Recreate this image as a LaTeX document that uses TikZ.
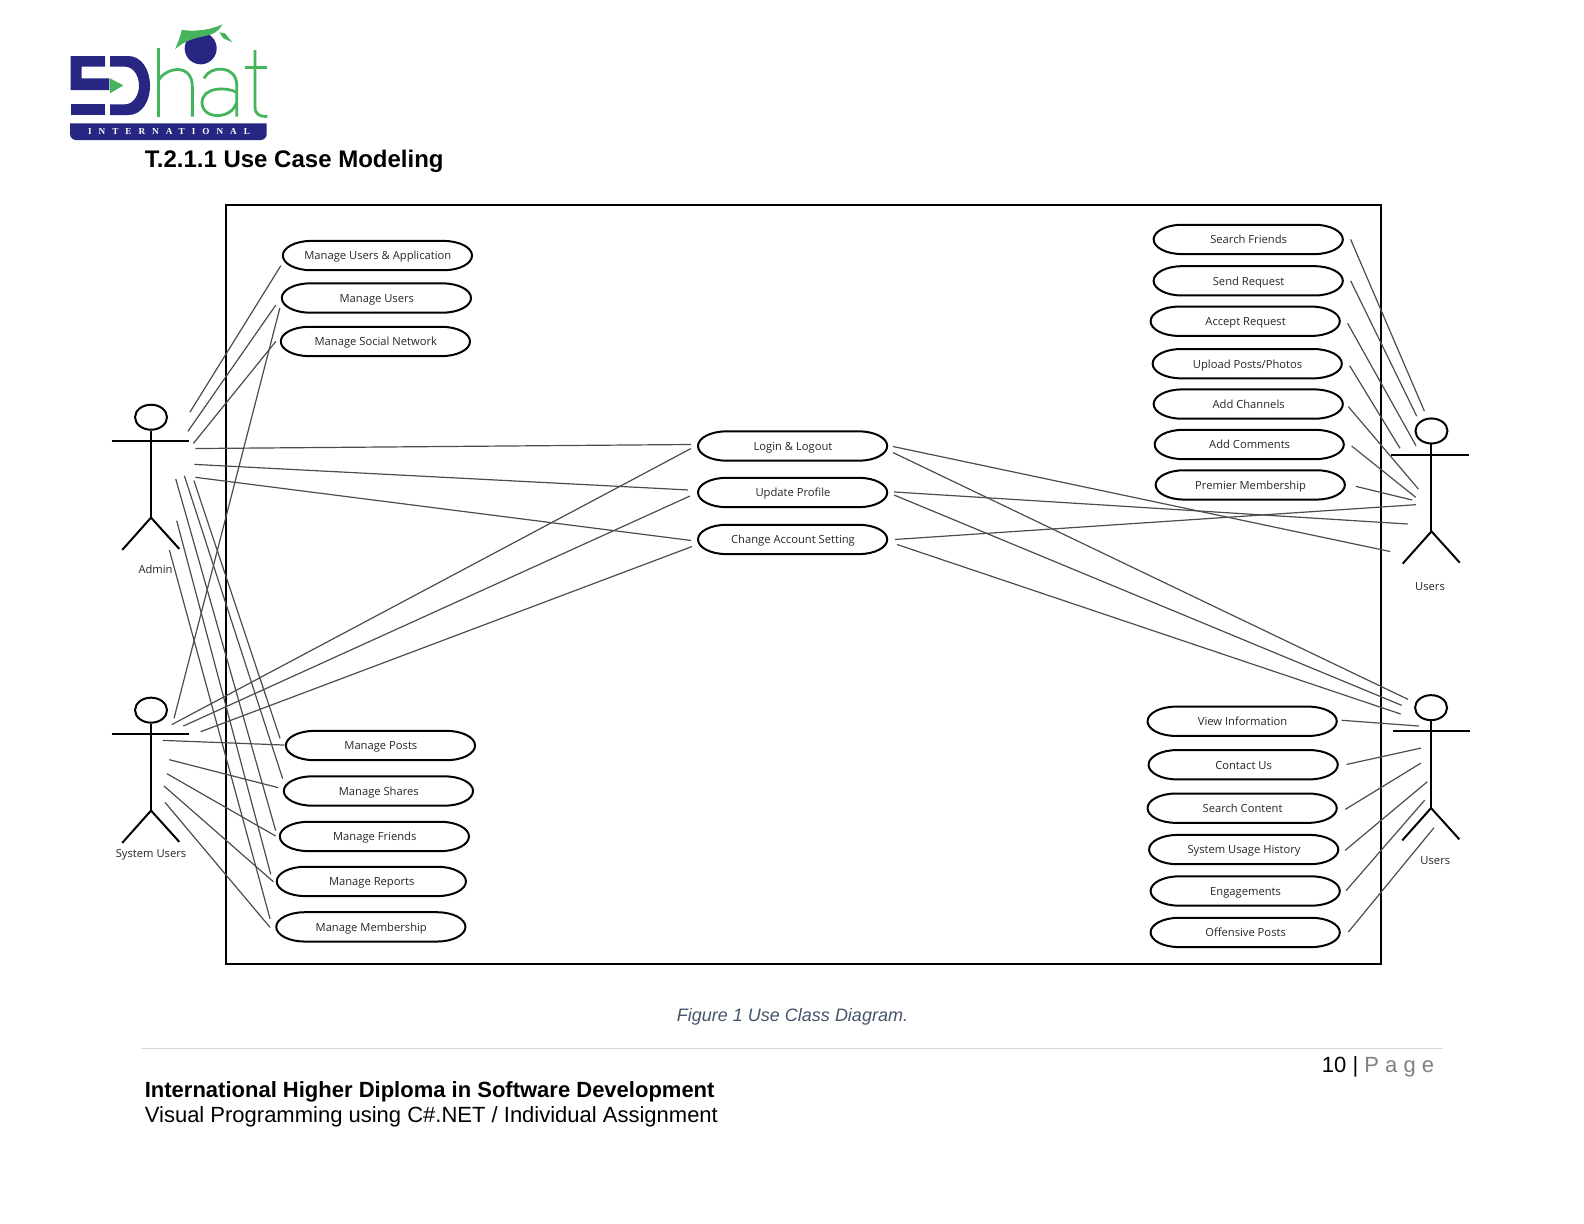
\documentclass[tikz,border=0pt]{standalone}
\usepackage{fontspec}
\setmainfont{Liberation Sans}
\newfontfamily\umlfont{Open Sans}
\newfontfamily\logofont[LetterSpace=76]{Liberation Serif}
\usetikzlibrary{shapes.geometric}

\definecolor{logonavy}{RGB}{39,38,130}
\definecolor{logogreen}{RGB}{70,180,92}
\definecolor{captionblue}{RGB}{68,84,106}

\tikzset{
    usecase/.style = {minimum width = 94.6pt, minimum height = 14.65pt, inner sep = 0pt, text height = 4.4pt, text depth = 0pt, font = \umlfont\fontsize{5.6}{7}\selectfont, text = black!85},
    usecaseline/.style = {line width = 1pt},
    actorline/.style = {line width = 1pt},
    actorhead/.style = {draw, ellipse, line width = 1pt, minimum width = 16pt, minimum height = 12.5pt, inner sep = 0pt},
    actorlabel/.style = {font = \umlfont\fontsize{5.6}{7}\selectfont, text = black!85},
    link/.style = {line width = .6pt, black!70},
    pagetext/.style = {anchor = west, inner sep = 0pt},
    logostroke/.style = {draw = logogreen, line width = 1.4pt}
}

\newcommand{\usecasebox}[4]{
    \node [usecase] (#1) at (#2, #3) {#4};
    \draw [usecaseline] (#1.west) arc [start angle = 180, end angle = 90, x radius = 28, y radius = 14.5] -- ++(131.3, 0)
        arc [start angle = 90, end angle = -90, x radius = 28, y radius = 14.5] -- ++(-131.3, 0)
        arc [start angle = -90, end angle = -180, x radius = 28, y radius = 14.5] -- cycle;
}

\newcommand{\actorman}[5]{
    \node [actorhead] (#1) at (#2, #3) {};
    \draw [actorline] (#1.south) -- ++(0, 86) coordinate (#1hip);
    \draw [actorline] ([yshift = -23.5*.5051pt, xshift = #4*.5051pt]#1.center) -- ([yshift = -23.5*.5051pt, xshift = #5*.5051pt]#1.center);
    \draw [actorline] ([xshift = -28.5*.5051pt, yshift = -32*.5051pt]#1hip) -- (#1hip) -- ([xshift = 28*.5051pt, yshift = -31*.5051pt]#1hip);
}

\begin{document}
\begin{tikzpicture}[x = .5051pt, y = -.5051pt]
    \useasboundingbox (0, 0) rectangle (1568, 1211.6);

    % logo
    \begin{scope}[shift = {(59.4, 14.85)}, x = .16668pt, y = -.16668pt]
        \fill [logonavy] (32, 123) -- (135, 123) -- (135, 155) -- (65, 155) -- (65, 190) -- (148, 190) -- (148, 225) -- (32, 225) -- cycle;
        \fill [logonavy] (32, 268) -- (135, 268) -- (135, 300) -- (32, 300) -- cycle;
        \fill [logonavy] (150, 123) -- (205, 123) .. controls (245, 123) and (270, 165) .. (270, 212) .. controls (270, 260) and (245, 300) .. (205, 300) -- (150, 300) -- (150, 268) -- (195, 268) .. controls (220, 268) and (237, 240) .. (237, 212) .. controls (237, 182) and (220, 155) .. (195, 155) -- (150, 155) -- cycle;
        \fill [logogreen] (150, 190) -- (190, 211) -- (150, 235) -- cycle;
        \fill [logonavy] (422, 100) circle [radius = 48];
        \draw [logostroke] (295, 100) -- (295, 305);
        \draw [logostroke] (296, 195) .. controls (320, 155) and (397, 145) .. (397, 215) -- (397, 305);
        \draw [logostroke] (432, 190) .. controls (450, 150) and (530, 150) .. (530, 210) -- (530, 305);
        \draw [logostroke] (530, 232) .. controls (500, 215) and (428, 215) .. (426, 262) .. controls (426, 315) and (515, 315) .. (530, 262);
        \draw [logostroke] (585, 105) -- (585, 275) .. controls (585, 300) and (600, 305) .. (622, 304);
        \draw [logostroke] (555, 158) -- (622, 158);
        \fill [logogreen] (365, 45) .. controls (410, 50) and (450, 45) .. (487, 28) .. controls (475, 50) and (460, 58) .. (440, 62) .. controls (410, 68) and (375, 75) .. (345, 103) .. controls (352, 85) and (362, 65) .. (365, 45) -- cycle;
        \fill [logogreen] (478, 52) -- (495, 55) -- (517, 82) -- (490, 70) -- cycle;
        \fill [logonavy] (30, 325) -- (620, 325) [rounded corners = 3pt] -- (620, 375) -- (30, 375) [sharp corners] -- cycle;
        \node [text = white] (logoband) at (327, 350) {\logofont\fontsize{4.6}{6}\selectfont\bfseries INTERNATIONAL};
    \end{scope}

    \node [pagetext, font = \fontsize{12}{14}\selectfont\bfseries] (title) at (143, 160) {T.2.1.1 Use Case Modeling};

    % system boundary
    \draw [line width = 1pt] (224, 203) rectangle (1367, 954);

    \usecasebox{mua}{374}{253}{Manage Users \& Application}
    \usecasebox{mu}{373}{295}{Manage Users}
    \usecasebox{msn}{372}{338}{Manage Social Network}

    \usecasebox{log}{785}{441.5}{Login \& Logout}
    \usecasebox{upd}{785}{487.5}{Update Profile}
    \usecasebox{chg}{785}{534}{Change Account Setting}

    \usecasebox{sf}{1236}{237}{Search Friends}
    \usecasebox{sr}{1236}{278}{Send Request}
    \usecasebox{ar}{1233}{318}{Accept Request}
    \usecasebox{up}{1235}{360}{Upload Posts/Photos}
    \usecasebox{ac}{1236}{400}{Add Channels}
    \usecasebox{acm}{1237}{440}{Add Comments}
    \usecasebox{pm}{1238}{480}{Premier Membership}

    \usecasebox{mp}{377}{738}{Manage Posts}
    \usecasebox{ms}{375}{783}{Manage Shares}
    \usecasebox{mf}{371}{828}{Manage Friends}
    \usecasebox{mr}{368}{872.5}{Manage Reports}
    \usecasebox{mm}{367.5}{917.5}{Manage Membership}

    \usecasebox{vi}{1230}{714}{View Information}
    \usecasebox{cu}{1231}{757}{Contact Us}
    \usecasebox{sc}{1230}{800}{Search Content}
    \usecasebox{suh}{1231.5}{841}{System Usage History}
    \usecasebox{eng}{1233}{882}{Engagements}
    \usecasebox{op}{1233}{923}{Offensive Posts}

    % actors
    \actorman{admin}{149.5}{413}{-39}{38}
    \node [actorlabel] (adminlabel) at (154, 564) {Admin};
    \actorman{sys}{149.5}{703}{-39}{38}
    \node [actorlabel] (syslabel) at (149.5, 846) {System Users};
    \actorman{usr}{1417}{426.6}{-40.4}{37.5}
    \node [actorlabel] (usrlabel) at (1415.6, 581) {Users};
    \actorman{usrb}{1416.6}{700.5}{-37.3}{38.6}
    \node [actorlabel] (usrblabel) at (1420.8, 852) {Users};

    % admin links
    \coordinate (adm-mua) at (188, 408);     \coordinate (mua-adm) at (278, 263);
    \coordinate (adm-mu) at (186, 427);      \coordinate (mu-adm) at (273, 302);
    \coordinate (adm-msn) at (191.4, 439);   \coordinate (msn-adm) at (273, 338);
    \coordinate (adm-log) at (193.5, 444);   \coordinate (log-adm) at (684, 440);
    \coordinate (adm-upd) at (192.4, 459.7); \coordinate (upd-adm) at (681, 485);
    \coordinate (adm-chg) at (193.4, 472.5); \coordinate (chg-adm) at (684, 535);
    \coordinate (adm-mp) at (192, 475.8);    \coordinate (mp-adm) at (277.2, 730.9);
    \coordinate (adm-ms) at (182.5, 470.9);  \coordinate (ms-adm) at (279.8, 770.8);
    \coordinate (adm-mf) at (174, 474.2);    \coordinate (mf-adm) at (272.9, 822.3);
    \coordinate (adm-mr) at (174.9, 515.4);  \coordinate (mr-adm) at (268, 865.5);
    \coordinate (adm-mm) at (167.7, 544.5);  \coordinate (mm-adm) at (267.3, 909.4);
    \draw [link] (adm-mua) -- (mua-adm);
    \draw [link] (adm-mu) -- (mu-adm);
    \draw [link] (adm-msn) -- (msn-adm);
    \draw [link] (adm-log) -- (log-adm);
    \draw [link] (adm-upd) -- (upd-adm);
    \draw [link] (adm-chg) -- (chg-adm);
    \draw [link] (adm-mp) -- (mp-adm);
    \draw [link] (adm-ms) -- (ms-adm);
    \draw [link] (adm-mf) -- (mf-adm);
    \draw [link] (adm-mr) -- (mr-adm);
    \draw [link] (adm-mm) -- (mm-adm);

    % system users links
    \coordinate (sys-mu) at (172.3, 711);    \coordinate (mu-sys) at (277, 305);
    \coordinate (sys-log) at (170, 717.3);   \coordinate (log-sys) at (684, 444);
    \coordinate (sys-upd) at (181.5, 718.7); \coordinate (upd-sys) at (683, 491);
    \coordinate (sys-chg) at (198.6, 724.3); \coordinate (chg-sys) at (685, 541);
    \coordinate (sys-mp) at (161, 732.9);    \coordinate (mp-sys) at (281.5, 737.5);
    \coordinate (sys-ms) at (167.6, 752);    \coordinate (ms-sys) at (275.5, 779.7);
    \coordinate (sys-mf) at (165.3, 765.9);  \coordinate (mf-sys) at (272.9, 827.6);
    \coordinate (sys-mr) at (162.3, 778);    \coordinate (mr-sys) at (270.6, 872.8);
    \coordinate (sys-mm) at (163.3, 794.2);  \coordinate (mm-sys) at (267.3, 918);
    \draw [link] (sys-mu) -- (mu-sys);
    \draw [link] (sys-log) -- (log-sys);
    \draw [link] (sys-upd) -- (upd-sys);
    \draw [link] (sys-chg) -- (chg-sys);
    \draw [link] (sys-mp) -- (mp-sys);
    \draw [link] (sys-ms) -- (ms-sys);
    \draw [link] (sys-mf) -- (mf-sys);
    \draw [link] (sys-mr) -- (mr-sys);
    \draw [link] (sys-mm) -- (mm-sys);

    % upper users links
    \coordinate (sf-usr) at (1337, 237);     \coordinate (usr-sf) at (1410, 407);
    \coordinate (sr-usr) at (1337, 278);     \coordinate (usr-sr) at (1402.4, 412);
    \coordinate (ar-usr) at (1334, 320);     \coordinate (usr-ar) at (1401.7, 441.2);
    \coordinate (up-usr) at (1336, 362);     \coordinate (usr-up) at (1385.9, 443.8);
    \coordinate (ac-usr) at (1334.7, 402.5); \coordinate (usr-ac) at (1404, 484);
    \coordinate (acm-usr) at (1338, 441.5);  \coordinate (usr-acm) at (1401.4, 492.3);
    \coordinate (pm-usr) at (1342, 481.4);   \coordinate (usr-pm) at (1398, 495);
    \coordinate (chg-usr) at (886, 534);     \coordinate (usr-chg) at (1401.7, 499.6);
    \coordinate (upd-usr) at (885, 487);     \coordinate (usr-upd) at (1393.5, 518.7);
    \coordinate (log-usr) at (884, 442);     \coordinate (usr-log) at (1376.3, 546);
    \draw [link] (sf-usr) -- (usr-sf);
    \draw [link] (sr-usr) -- (usr-sr);
    \draw [link] (ar-usr) -- (usr-ar);
    \draw [link] (up-usr) -- (usr-up);
    \draw [link] (ac-usr) -- (usr-ac);
    \draw [link] (acm-usr) -- (usr-acm);
    \draw [link] (pm-usr) -- (usr-pm);
    \draw [link] (chg-usr) -- (usr-chg);
    \draw [link] (upd-usr) -- (usr-upd);
    \draw [link] (log-usr) -- (usr-log);

    % lower users links
    \coordinate (log-usrb) at (884, 448);     \coordinate (usrb-log) at (1393.8, 692.3);
    \coordinate (upd-usrb) at (885, 490);     \coordinate (usrb-upd) at (1387.5, 698.2);
    \coordinate (chg-usrb) at (888, 539);     \coordinate (usrb-chg) at (1386.5, 706.8);
    \coordinate (vi-usrb) at (1328.1, 713);   \coordinate (usrb-vi) at (1404.7, 718.7);
    \coordinate (cu-usrb) at (1333, 756.7);   \coordinate (usrb-cu) at (1406.7, 740.5);
    \coordinate (sc-usrb) at (1331.7, 801.2); \coordinate (usrb-sc) at (1406.7, 755.3);
    \coordinate (suh-usrb) at (1331.5, 841.8); \coordinate (usrb-suh) at (1412.9, 773.8);
    \coordinate (eng-usrb) at (1332.4, 881.7); \coordinate (usrb-eng) at (1410.3, 792);
    \coordinate (op-usrb) at (1334.7, 922.6); \coordinate (usrb-op) at (1419.5, 819.3);
    \draw [link] (log-usrb) -- (usrb-log);
    \draw [link] (upd-usrb) -- (usrb-upd);
    \draw [link] (chg-usrb) -- (usrb-chg);
    \draw [link] (vi-usrb) -- (usrb-vi);
    \draw [link] (cu-usrb) -- (usrb-cu);
    \draw [link] (sc-usrb) -- (usrb-sc);
    \draw [link] (suh-usrb) -- (usrb-suh);
    \draw [link] (eng-usrb) -- (usrb-eng);
    \draw [link] (op-usrb) -- (usrb-op);

    % caption and footer
    \node [text = captionblue, font = \fontsize{9}{11}\selectfont\itshape] (caption) at (784.5, 1007) {Figure 1 Use Class Diagram.};
    \coordinate (ruleleft) at (140, 1038);
    \coordinate (ruleright) at (1428, 1038);
    \draw [black!15, line width = .75pt] (ruleleft) -- (ruleright);
    \node [anchor = east, inner sep = 0pt, font = \fontsize{11}{13}\selectfont] (pagenum) at (1420, 1056) {10 | \textcolor{black!50}{P a g e}};
    \node [pagetext, font = \fontsize{11}{13}\selectfont\bfseries] (diploma) at (143, 1081) {International Higher Diploma in Software Development};
    \node [pagetext, font = \fontsize{11}{13}\selectfont] (module) at (143, 1106) {Visual Programming using C\#.NET / Individual Assignment};

\end{tikzpicture}
\end{document}
